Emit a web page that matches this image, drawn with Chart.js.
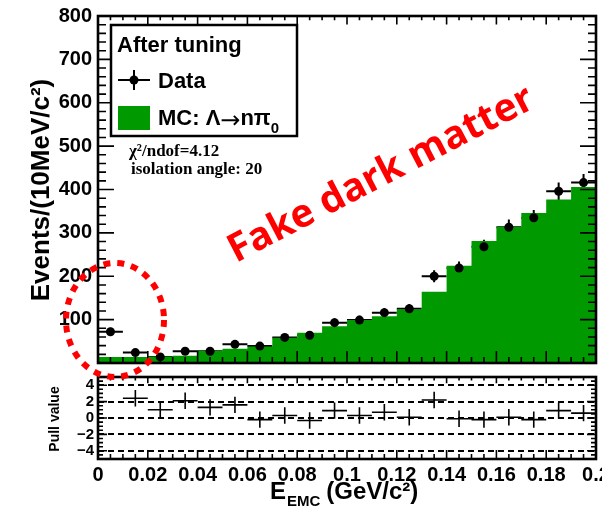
<!DOCTYPE html>
<html>
<head>
<meta charset="utf-8">
<script src="https://cdn.jsdelivr.net/npm/chart.js@4.4.1/dist/chart.umd.min.js"></script>
<style>
  html, body { margin: 0; padding: 0; background: #fff; }
  #wrap { position: relative; width: 602px; height: 506px; overflow: hidden; }
  canvas { position: absolute; left: 0; top: 0; }
</style>
</head>
<body>
<div id="wrap">
  <canvas id="MainChart" width="602" height="506"></canvas>
  <canvas id="PullChart" width="602" height="506"></canvas>
</div>
<script>
// bins of E_EMC (GeV/c^2), 10 MeV wide
const binEdges = [0, 0.01, 0.02, 0.03, 0.04, 0.05, 0.06, 0.07, 0.08, 0.09, 0.1,
  0.11, 0.12, 0.13, 0.14, 0.15, 0.16, 0.17, 0.18, 0.19, 0.2];
const binCenters = [0.005, 0.015, 0.025, 0.035, 0.045, 0.055, 0.065, 0.075, 0.085, 0.095,
  0.105, 0.115, 0.125, 0.135, 0.145, 0.155, 0.165, 0.175, 0.185, 0.195];

// MC: Lambda -> n pi0 (histogram)
const mcEvents = [14, 14, 15, 17, 28, 33, 38, 58, 70, 85, 99, 108, 124, 164, 224, 281, 314, 346, 377, 406];
// data points and their errors
const dataEvents = [72, 24, 14, 27, 27, 43, 39, 59, 64, 93, 99, 116, 125, 200, 219, 268, 313, 335, 396, 416];
const dataErrors = [9, 5, 4, 5, 5, 7, 6, 8, 8, 10, 10, 11, 11, 14, 15, 16, 18, 18, 20, 20];
// pull panel (first bin is off scale)
const pullValues = [null, 2.4, 1.0, 2.1, 1.3, 1.6, -0.2, 0.3, -0.3, 0.9, 0.3, 0.7, 0.1, 2.2, -0.1, -0.2, 0.1, -0.2, 0.9, 0.6];
const pullErrors = [1, 1, 1, 1, 1, 1, 1, 1, 1, 1, 1, 1, 1, 1, 1, 1, 1, 1, 1, 1];

const yTicks = [100, 200, 300, 400, 500, 600, 700, 800];
const pullTicks = [-4, -2, 0, 2, 4];
const xTicks = [0, 0.02, 0.04, 0.06, 0.08, 0.1, 0.12, 0.14, 0.16, 0.18, 0.2];

const SANS = '"Liberation Sans", Arial, sans-serif';
const SERIF = '"Liberation Serif", "Times New Roman", serif';
const GREEN = "#009900";

Chart.defaults.font.family = SANS;
Chart.defaults.color = "#000";

// frame with inside ticks on all four sides
function drawFrame(chart, o) {
  const { ctx, chartArea: a } = chart;
  const x = chart.scales.x, y = chart.scales.y;
  ctx.save();
  ctx.strokeStyle = "#000";
  ctx.lineWidth = 1.6;
  ctx.beginPath();
  let n = Math.round((x.max - x.min) / o.xMinor);
  for (let i = 0; i <= n; i++) {
    const v = x.min + i * o.xMinor;
    const px = x.getPixelForValue(v);
    const major = i % o.xEvery === 0;
    const len = major ? o.xLen[0] : o.xLen[1];
    ctx.moveTo(px, a.bottom); ctx.lineTo(px, a.bottom - len);
    ctx.moveTo(px, a.top); ctx.lineTo(px, a.top + len * 0.7);
  }
  n = Math.round((y.max - y.min) / o.yMinor);
  for (let i = 0; i <= n; i++) {
    const v = y.min + i * o.yMinor;
    const py = y.getPixelForValue(v);
    const major = Math.abs(v / o.yMajor - Math.round(v / o.yMajor)) < 1e-6;
    const len = major ? o.yLen[0] : o.yLen[1];
    ctx.moveTo(a.left, py); ctx.lineTo(a.left + len, py);
    ctx.moveTo(a.right, py); ctx.lineTo(a.right - len, py);
  }
  ctx.stroke();
  ctx.lineWidth = o.lw;
  ctx.strokeRect(a.left, a.top, a.right - a.left, a.bottom - a.top);
  ctx.restore();
}

// horizontal bin-width bar plus vertical error bar
function drawCrosses(chart, values, errors, lw) {
  const { ctx } = chart;
  const x = chart.scales.x, y = chart.scales.y;
  ctx.save();
  ctx.strokeStyle = "#000";
  ctx.lineWidth = lw;
  ctx.beginPath();
  values.forEach((v, i) => {
    if (v === null) return;
    const py = y.getPixelForValue(v);
    const cx = x.getPixelForValue(binCenters[i]);
    ctx.moveTo(x.getPixelForValue(binEdges[i]), py);
    ctx.lineTo(x.getPixelForValue(binEdges[i + 1]), py);
    ctx.moveTo(cx, y.getPixelForValue(v + errors[i]));
    ctx.lineTo(cx, y.getPixelForValue(v - errors[i]));
  });
  ctx.stroke();
  ctx.restore();
}

const mainDecor = {
  id: "mainDecor",
  beforeDatasetsDraw(chart) {
    drawCrosses(chart, dataEvents, dataErrors, 2);
  },
  afterDraw(chart) {
    drawFrame(chart, { lw: 2.6, xMinor: 0.005, xEvery: 4, xLen: [12, 6],
      yMinor: 20, yMajor: 100, yLen: [16, 8] });
    const ctx = chart.ctx;
    ctx.save();
    // y title
    ctx.translate(42, 190);
    ctx.rotate(-Math.PI / 2);
    ctx.font = "bold 26px " + SANS;
    ctx.textAlign = "center";
    ctx.textBaseline = "middle";
    ctx.fillStyle = "#000";
    ctx.fillText("Events/(10MeV/c\u00b2)", 0, 0);
    ctx.restore();

    // legend box
    ctx.save();
    ctx.fillStyle = "#fff";
    ctx.fillRect(111, 25, 186, 111);
    ctx.strokeStyle = "#000";
    ctx.lineWidth = 2.5;
    ctx.strokeRect(111, 25, 186, 111);
    ctx.fillStyle = "#000";
    ctx.textBaseline = "alphabetic";
    ctx.font = "bold 22px " + SANS;
    ctx.fillText("After tuning", 117, 52);
    ctx.lineWidth = 2;
    ctx.beginPath();
    ctx.moveTo(118, 80); ctx.lineTo(150, 80);
    ctx.moveTo(134, 70); ctx.lineTo(134, 90);
    ctx.stroke();
    ctx.beginPath();
    ctx.arc(134, 80, 4.5, 0, Math.PI * 2);
    ctx.fill();
    ctx.fillText("Data", 158, 88);
    ctx.fillStyle = GREEN;
    ctx.fillRect(118, 106, 32, 24);
    ctx.fillStyle = "#000";
    ctx.fillText("MC: \u039b", 158, 125);
    let w = ctx.measureText("MC: \u039b").width;
    ctx.font = "24px \"DejaVu Sans\", " + SANS;
    ctx.fillText("\u2192", 158 + w, 128);
    w += ctx.measureText("\u2192").width;
    ctx.font = "bold 22px " + SANS;
    ctx.fillText("n\u03c0", 158 + w, 125);
    w += ctx.measureText("n\u03c0").width;
    ctx.font = "bold 15px " + SANS;
    ctx.fillText("0", 158 + w, 133);
    ctx.font = "bold 17px " + SERIF;
    ctx.fillText("\u03c7\u00b2/ndof=4.12", 129, 156);
    ctx.fillText("isolation angle: 20", 131, 174);
    ctx.restore();
  }
};

const pullDecor = {
  id: "pullDecor",
  afterDraw(chart) {
    drawCrosses(chart, pullValues, pullErrors, 1.6);
    drawFrame(chart, { lw: 2.6, xMinor: 0.005, xEvery: 4, xLen: [9, 5],
      yMinor: 0.5, yMajor: 2, yLen: [9, 5] });
    const ctx = chart.ctx;
    ctx.save();
    ctx.fillStyle = "#000";
    // pull y title
    ctx.save();
    ctx.translate(55, 419);
    ctx.rotate(-Math.PI / 2);
    ctx.font = "bold 14px " + SANS;
    ctx.textAlign = "center";
    ctx.textBaseline = "middle";
    ctx.fillText("Pull value", 0, 0);
    ctx.restore();
    // x title E_EMC (GeV/c^2)
    ctx.textBaseline = "alphabetic";
    ctx.font = "bold 24px " + SANS;
    ctx.fillText("E", 270, 499);
    const wE = ctx.measureText("E").width;
    ctx.font = "bold 15px " + SANS;
    ctx.fillText("EMC", 270 + wE + 1, 506);
    const wS = ctx.measureText("EMC").width;
    ctx.font = "bold 24px " + SANS;
    ctx.fillText("(GeV/c\u00b2)", 270 + wE + wS + 7, 499);

    // red annotation
    ctx.save();
    ctx.translate(236, 263);
    ctx.rotate(-27.5 * Math.PI / 180);
    ctx.fillStyle = "#ff0000";
    ctx.font = 'bold 39px "Open Sans", ' + SANS;
    ctx.fillText("Fake dark matter", 0, 0);
    ctx.restore();
    ctx.strokeStyle = "#ff0000";
    ctx.lineWidth = 6;
    ctx.setLineDash([7, 7]);
    ctx.beginPath();
    ctx.ellipse(115, 320, 49, 57, 0, 0, Math.PI * 2);
    ctx.stroke();
    ctx.restore();
  }
};

function noPad(scale) {
  scale.paddingLeft = 0;
  scale.paddingRight = 0;
  scale.paddingTop = 0;
  scale.paddingBottom = 0;
}

new Chart(document.getElementById("MainChart").getContext("2d"), {
  type: "line",
  data: {
    datasets: [
      {
        label: "Data",
        data: binCenters.map((c, i) => ({ x: c, y: dataEvents[i] })),
        showLine: false,
        pointRadius: 4.5,
        pointBackgroundColor: "#000",
        pointBorderWidth: 0,
        order: 0,
      },
      {
        label: "MC",
        data: binEdges.map((e, i) => ({ x: e, y: mcEvents[Math.min(i, mcEvents.length - 1)] })),
        stepped: true,
        borderWidth: 0,
        borderColor: GREEN,
        backgroundColor: GREEN,
        pointRadius: 0,
        fill: "origin",
        order: 1,
      },
    ],
  },
  options: {
    responsive: false,
    animation: false,
    events: [],
    layout: { padding: { left: 0, top: 16, right: 6, bottom: 143 } },
    plugins: { legend: { display: false }, tooltip: { enabled: false } },
    scales: {
      x: { type: "linear", display: false, min: 0, max: 0.2 },
      y: {
        min: 0,
        max: 800,
        afterBuildTicks: (s) => { s.ticks = yTicks.map((v) => ({ value: v })); },
        afterFit: (s) => { s.width = 98; noPad(s); },
        grid: { display: false, drawTicks: false },
        border: { display: false },
        ticks: { padding: 6, autoSkip: false, font: { size: 20, weight: "bold" } },
      },
    },
  },
  plugins: [mainDecor],
});

new Chart(document.getElementById("PullChart").getContext("2d"), {
  type: "line",
  data: { datasets: [{ data: [], pointRadius: 0 }] },
  options: {
    responsive: false,
    animation: false,
    events: [],
    layout: { padding: { left: 0, top: 377, right: 6, bottom: 0 } },
    plugins: { legend: { display: false }, tooltip: { enabled: false } },
    scales: {
      x: {
        type: "linear",
        min: 0,
        max: 0.2,
        afterBuildTicks: (s) => { s.ticks = xTicks.map((v) => ({ value: v })); },
        afterFit: (s) => { s.height = 47; noPad(s); },
        grid: { display: false, drawTicks: false },
        border: { display: false },
        ticks: {
          padding: 4,
          maxRotation: 0,
          autoSkip: false,
          font: { size: 20, weight: "bold" },
          callback: (v) => String(Math.round(v * 100) / 100),
        },
      },
      y: {
        min: -5,
        max: 5,
        afterBuildTicks: (s) => { s.ticks = pullTicks.map((v) => ({ value: v })); },
        afterFit: (s) => { s.width = 98; noPad(s); },
        grid: { color: "#000", lineWidth: 2, drawTicks: false },
        border: { display: false, dash: [6, 4] },
        ticks: {
          padding: 4,
          autoSkip: false,
          font: { size: 15, weight: "bold" },
          callback: (v) => (v < 0 ? "\u2212" + Math.abs(v) : String(v)),
        },
      },
    },
  },
  plugins: [pullDecor],
});
</script>
</body>
</html>
